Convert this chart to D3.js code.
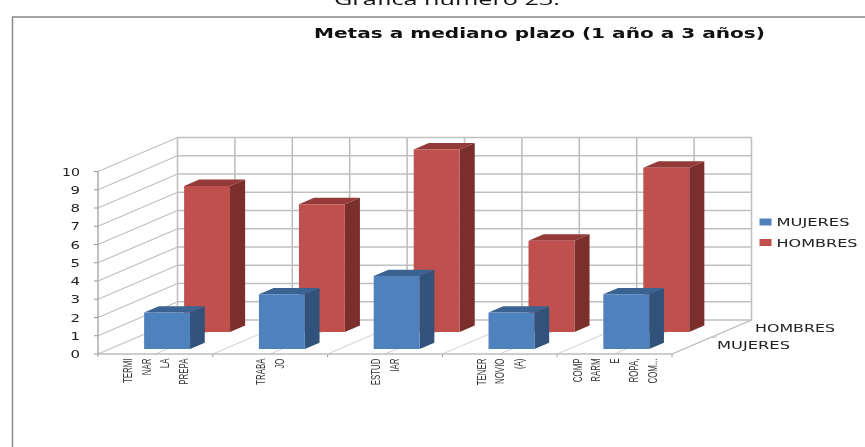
<!DOCTYPE html>
<html><head><meta charset="utf-8">
<script src="https://cdn.jsdelivr.net/npm/d3@7/dist/d3.min.js"></script>
<style>html,body{margin:0;padding:0;background:#fff;overflow:hidden}svg{display:block;filter:blur(0.45px)}</style>
</head><body><svg id="c" width="865" height="447"></svg>
<script>
const categories = [["TERMI","NAR","LA","PREPA"],["TRABA","JO"],["ESTUD","IAR"],["TENER","NOVIO","(A)"],["COMP","RARM","E","ROPA,","COM..."]];
const seriesNames = ["MUJERES","HOMBRES"];
const mujeres = [2,3,4,2,3];
const hombres = [8,7,10,5,9];
const yTicks = [0,1,2,3,4,5,6,7,8,9,10];
const colors = {MUJERES:{front:"#4f81bd",side:"#31527a",top:"#3b6391"},HOMBRES:{front:"#c0504d",side:"#7a2f2d",top:"#943a38"}};
const chartTitle = "Metas a mediano plazo (1 año a 3 años)";
const pageTitle = "Gráfica número 23.";

const svg = d3.select("#c");
const x = d3.scaleLinear().domain([0,5]).range([98,672]);
const yv = d3.scaleLinear().domain([0,10]).range([0,182.5]);
const dx = d3.scaleLinear().domain([0,1]).range([0,79.5]);
const dy = d3.scaleLinear().domain([0,1]).range([0,34]);
const Y0 = 354;
const P = (c,d,v)=>[x(c)+dx(d), Y0-yv(v)-dy(d)];
const poly = (pts,fill,stroke)=>svg.append("path").attr("d",d3.line()(pts)+"Z").attr("fill",fill).attr("stroke",stroke||"none");
const seg = (a,b,col,w)=>svg.append("line").attr("x1",a[0]).attr("y1",a[1]).attr("x2",b[0]).attr("y2",b[1]).attr("stroke",col).attr("stroke-width",w||1);
const GRID="#bfbfbf";

// frame
svg.append("path").attr("d","M12.5 447V17H865").attr("fill","none").attr("stroke","#8a8a8a").attr("stroke-width",1.5);

// page title, clipped at top as in the reference
svg.append("text").attr("x",447).attr("y",5).attr("text-anchor","middle").attr("font-family","Open Sans").attr("font-size",17).attr("textLength",226).attr("lengthAdjust","spacingAndGlyphs").attr("fill","#111").text(pageTitle);
svg.append("text").attr("x",314).attr("y",38).attr("font-family","DejaVu Sans").attr("font-weight","bold").attr("font-size",14).attr("textLength",451).attr("lengthAdjust","spacingAndGlyphs").attr("fill","#111").text(chartTitle);

// walls
yTicks.forEach(v=>{
  seg(P(0,0,v),P(0,1,v),GRID,1.2);
  seg(P(0,1,v),P(5,1,v),GRID,1.6);
  seg(P(0,0,v),[P(0,0,v)[0]-4,P(0,0,v)[1]],"#999",1);
});
d3.range(0,5.01,0.5).forEach(c=>{
  seg(P(c,1,0),P(c,1,10),GRID,1.6);
  seg(P(c,0,0),P(c,1,0),"#d0d0d0",1);
  if(Number.isInteger(c)) seg(P(c,0,0),[P(c,0,0)[0],P(c,0,0)[1]+3],"#999",1);
});
seg(P(0,0,0),P(0,0,10),"#a6a6a6",1.4);
seg(P(0,0,0),P(5,0,0),"#bdbdbd",1.4);
seg(P(5,0,0),P(5,1,0),"#bdbdbd",1.2);
seg(P(5,0.5,0),[P(5,0.5,0)[0]+5,P(5,0.5,0)[1]],"#bdbdbd",1);
seg(P(5,1,0),[P(5,1,0)[0]-4,P(5,1,0)[1]+2],"#bdbdbd",1);

// axis labels
const wide=(sel,len)=>sel.attr("font-family","DejaVu Sans").attr("textLength",len).attr("lengthAdjust","spacingAndGlyphs").attr("fill","#222");
yTicks.forEach(v=>{
  const p=P(0,0,v);
  wide(svg.append("text").attr("text-anchor","end").attr("x",p[0]-18).attr("y",p[1]+4).attr("font-size",11),v==10?18:9.5).text(v);
});

// bars: back row first, then front, each left to right
const barW=0.4, rows=[{name:"HOMBRES",vals:hombres,d0:0.65,d1:0.84},{name:"MUJERES",vals:mujeres,d0:0.147,d1:0.332}];
rows.forEach(r=>{
  const col=colors[r.name];
  r.vals.forEach((v,i)=>{
    const c0=i+0.5-barW/2, c1=i+0.5+barW/2;
    poly([P(c1,r.d0,0),P(c1,r.d1,0),P(c1,r.d1,v),P(c1,r.d0,v)],col.side);
    poly([P(c0,r.d0,v),P(c0,r.d1,v),P(c1,r.d1,v),P(c1,r.d0,v)],col.top);
    poly([P(c0,r.d0,0),P(c1,r.d0,0),P(c1,r.d0,v),P(c0,r.d0,v)],col.front);
  });
});

// category labels, condensed along the reading direction
categories.forEach((lines,i)=>{
  const cx=x(i+0.5);
  lines.forEach((t,j)=>{
    const lx=cx+(j-(lines.length-1)/2)*18.7+4.5;
    svg.append("text").attr("transform",`translate(${lx},358.5) rotate(-90) scale(0.66,1)`).attr("text-anchor","end")
      .attr("font-family","Liberation Sans").attr("font-size",12).attr("fill","#333").text(t);
  });
});

// series axis labels
wide(svg.append("text").attr("x",717).attr("y",349).attr("font-size",11),73).text(seriesNames[0]);
wide(svg.append("text").attr("x",755).attr("y",332).attr("font-size",11),80).text(seriesNames[1]);

// legend
seriesNames.forEach((n,i)=>{
  const ly=222+i*20.5;
  svg.append("rect").attr("x",759.5).attr("y",ly-3.5).attr("width",12).attr("height",7).attr("fill",colors[n].front);
  wide(svg.append("text").attr("x",776.5).attr("y",ly+4).attr("font-size",11),i==0?73:81).text(n);
});
</script></body></html>
